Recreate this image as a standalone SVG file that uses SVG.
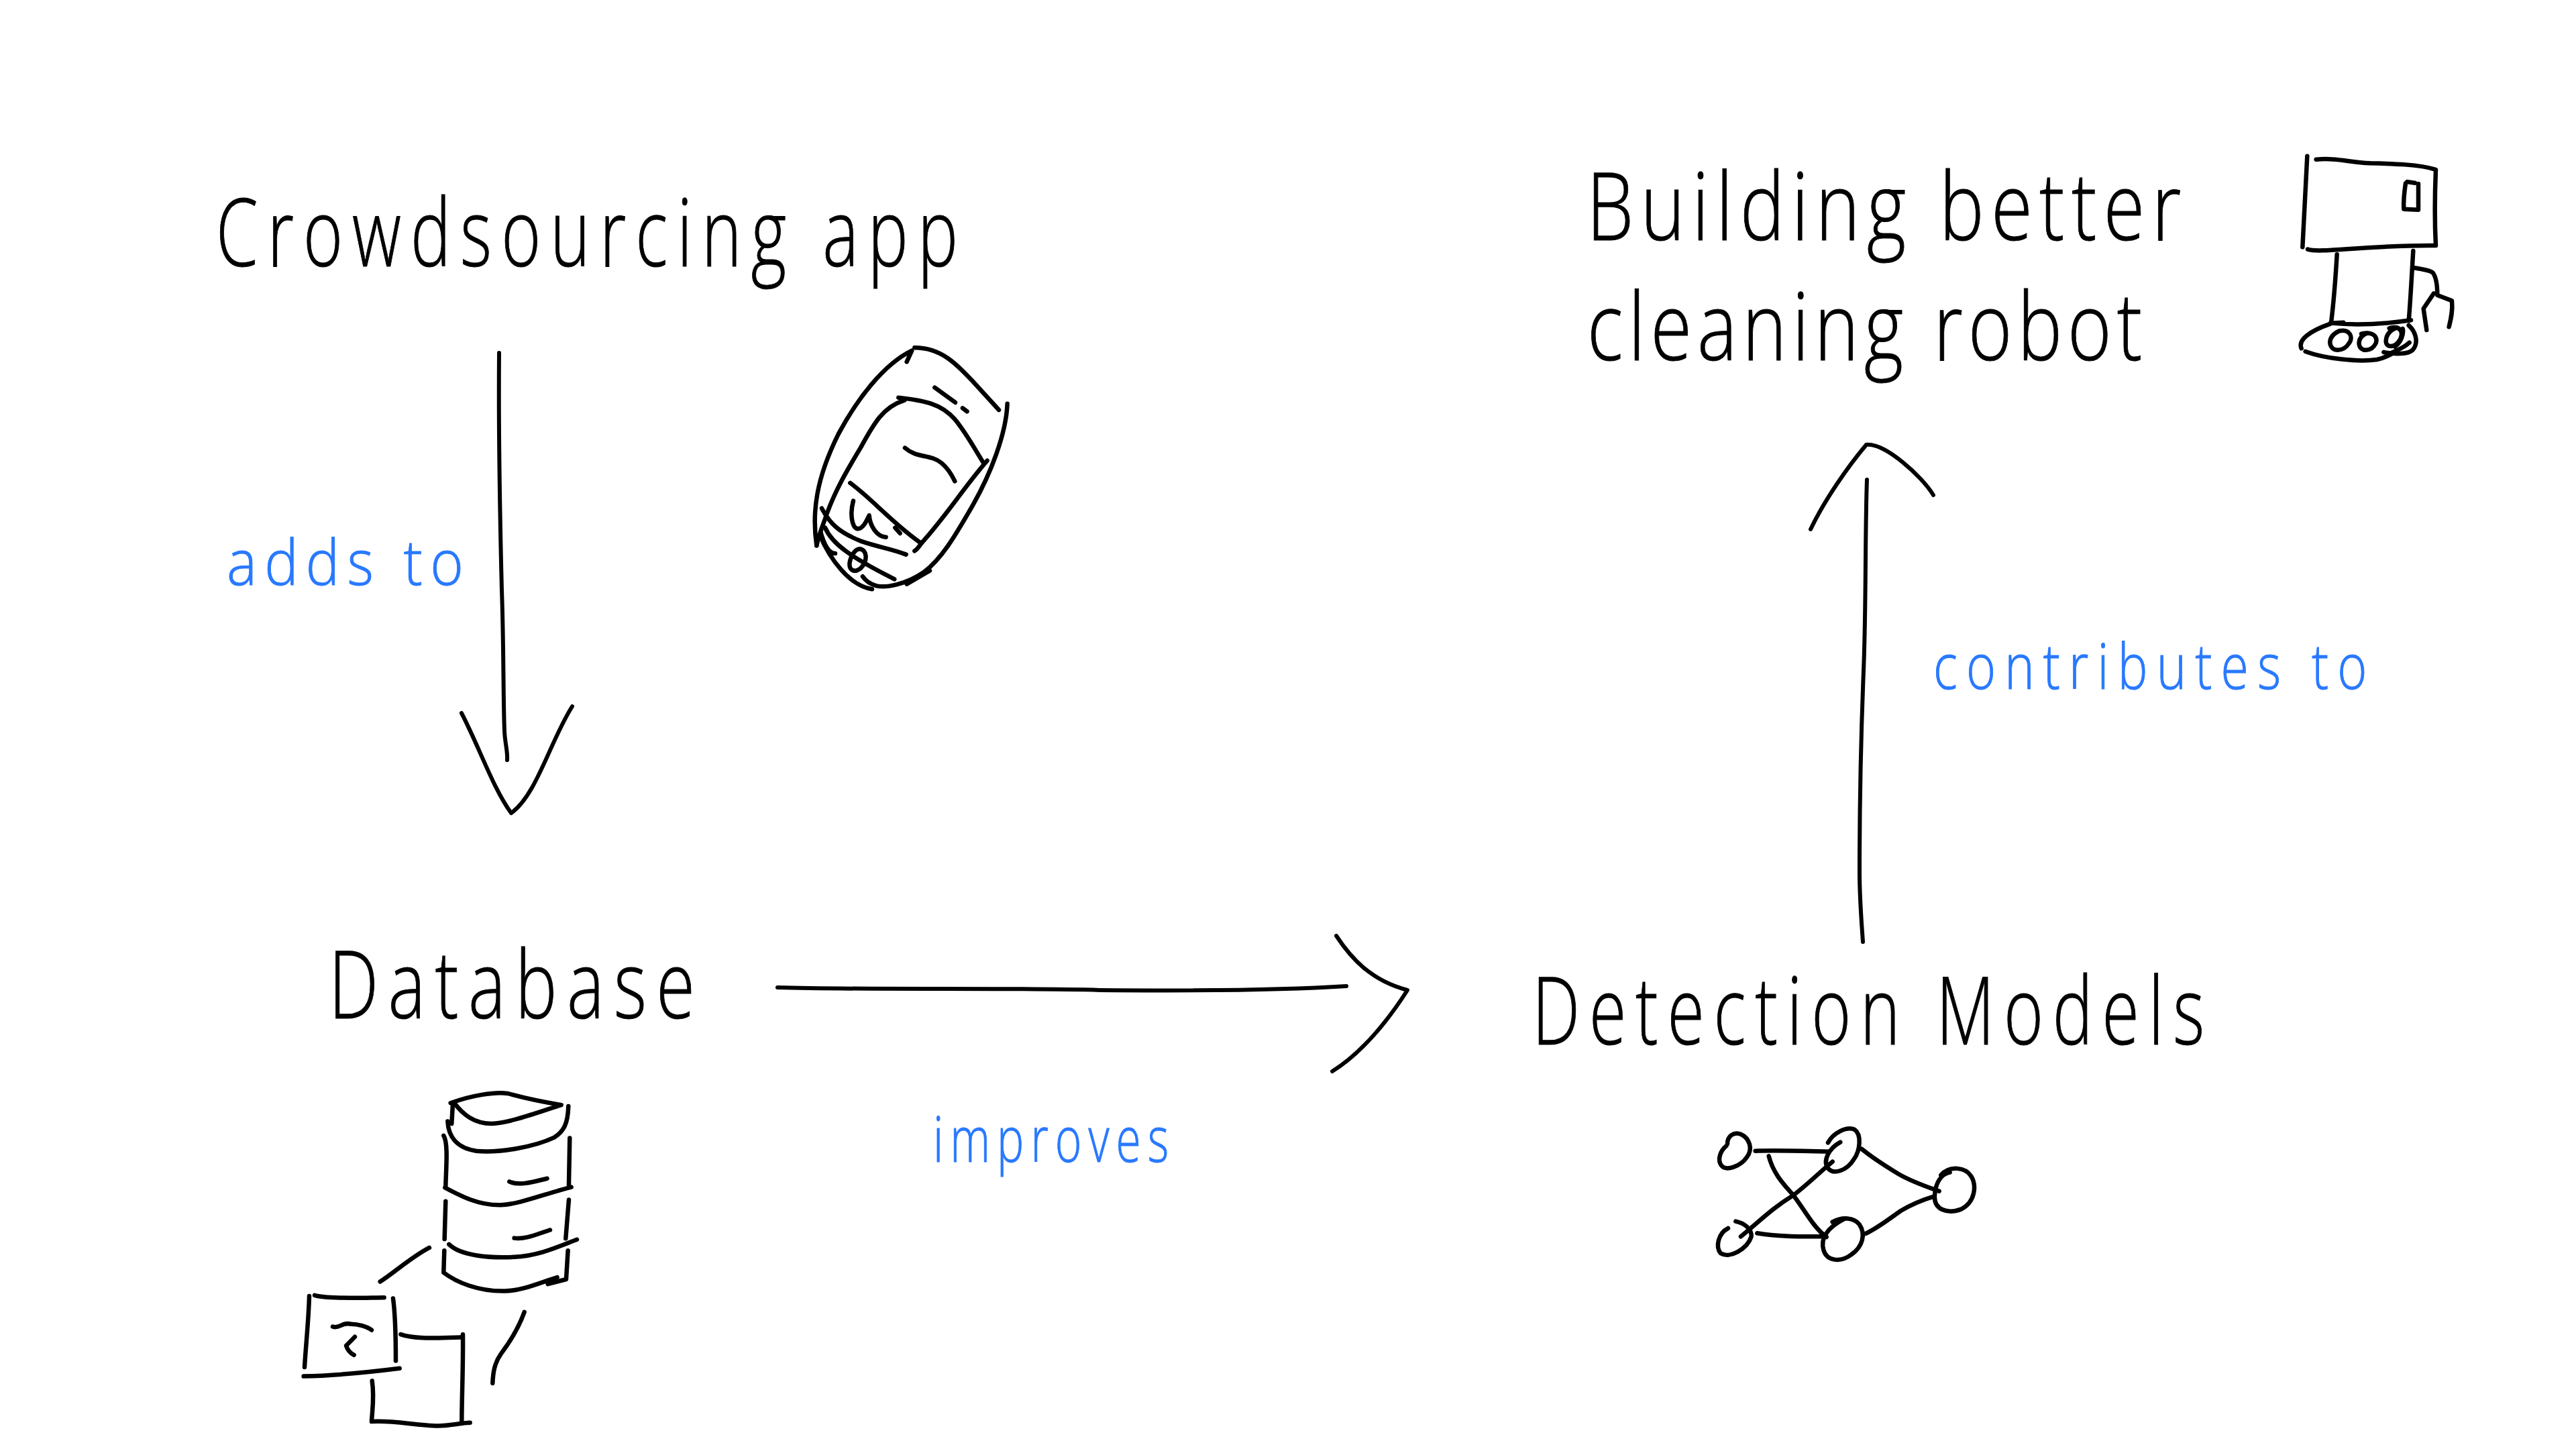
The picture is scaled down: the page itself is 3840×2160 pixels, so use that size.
<svg xmlns="http://www.w3.org/2000/svg" width="3840" height="2160" viewBox="0 0 3840 2160">
<style>
.s{fill:none;stroke:#000;stroke-width:6.5;stroke-linecap:round;stroke-linejoin:round;vector-effect:non-scaling-stroke}
.a{fill:none;stroke:#000;stroke-width:6;stroke-linecap:round;stroke-linejoin:round}
.t{font-family:"Open Sans","Liberation Sans",sans-serif;font-weight:300;font-size:140px;fill:#000;stroke:#000;stroke-width:1}
.l{font-family:"Open Sans","Liberation Sans",sans-serif;font-weight:300;font-size:94px;fill:#2979ff;stroke:#2979ff;stroke-width:1}
</style>
<rect width="3840" height="2160" fill="#fff"/>
<g id="connectors">
<g id="edge-adds-to">
<path class="a" d="M744 526C743 640 745 760 748 880C751 960 750 1040 752 1090C753 1110 757 1120 756 1133"/>
<path class="a" d="M688 1063C715 1115 735 1175 762 1212C800 1185 820 1105 853 1053"/>
<text class="l" transform="translate(338 872) scale(.9 1)" textLength="392" lengthAdjust="spacing">adds to</text>
</g>
<g id="edge-improves">
<path class="a" d="M1159 1472C1300 1476 1500 1472 1640 1476C1760 1477 1900 1477 2007 1470"/>
<path class="a" d="M1992 1395C2015 1430 2045 1462 2098 1476C2070 1520 2030 1570 1986 1597"/>
<text class="l" transform="translate(1391 1732) scale(.72 1)" textLength="488" lengthAdjust="spacing">improves</text>
</g>
<g id="edge-contributes-to">
<path class="a" d="M2783 715C2780 800 2782 900 2778 1000C2774 1100 2772 1200 2772 1300C2772 1340 2775 1375 2777 1404"/>
<path class="a" d="M2699 789C2720 745 2755 695 2782 663C2810 660 2865 710 2882 738"/>
<text class="l" transform="translate(2882 1027) scale(.8 1)" textLength="808" lengthAdjust="spacing">contributes to</text>
</g>
</g>
<g id="node-crowdsourcing">
<text class="t" transform="translate(322 397) scale(.72 1)" textLength="1536" lengthAdjust="spacing">Crowdsourcing app</text>
<g transform="translate(1150 480) scale(.3333)">
<path class="s" d="M202 1000C180 850 200 700 300 500C380 350 500 190 628 128L605 178"/>
<path class="s" d="M640 115C760 115 830 190 900 265L1017 393"/>
<path class="s" d="M1055 365C1050 500 980 680 900 820C820 960 760 1060 680 1120C600 1175 510 1190 470 1180C440 1172 420 1155 408 1138"/>
<path class="s" d="M708 1112L605 1172"/>
<path class="s" d="M595 350C500 380 460 450 400 560C340 660 280 760 240 880C225 920 210 960 202 1000"/>
<path class="s" d="M568 338C680 350 760 365 820 435C870 495 910 570 948 630"/>
<path class="s" d="M965 620C860 740 780 870 670 990C660 1005 650 1018 640 1024"/>
<path class="s" d="M352 720C450 790 540 900 670 990"/>
<path class="s" d="M597 563C650 610 710 590 760 630C790 655 805 680 820 712"/>
<path class="s" d="M730 293L822 360M855 385L875 400M553 920L575 945"/>
<path class="s" d="M366 800C350 860 360 920 385 925C410 925 425 890 437 865C440 910 470 960 512 962"/>
<path class="s" d="M225 833C260 900 300 940 400 980C470 1005 540 1015 602 1040"/>
<path class="s" d="M240 920C270 990 350 1050 550 1150"/>
<path class="s" d="M220 940C240 1010 260 1035 285 1035M215 950C260 1060 350 1180 450 1195"/>
<path class="s" d="M395 1015C430 1020 430 1070 400 1100C370 1125 345 1110 350 1075C355 1045 375 1015 395 1015Z"/>
</g>
</g>
<g id="node-database">
<text class="t" transform="translate(490 1518) scale(.75 1)" textLength="728" lengthAdjust="spacing">Database</text>
<g transform="translate(420 1590) scale(.3333 .357)">
<path class="s" d="M755 152C850 120 950 105 1010 112C1080 130 1150 145 1250 160C1150 190 1020 235 940 238C860 238 810 200 770 150"/>
<path class="s" d="M765 155L760 238"/>
<path class="s" d="M742 228C745 290 780 340 870 352C970 362 1130 335 1220 295C1260 270 1280 240 1282 165"/>
<path class="s" d="M724 288C745 320 735 420 733 500M1288 298L1284 495"/>
<path class="s" d="M730 505C800 540 880 580 980 578C1060 575 1180 530 1295 503"/>
<path class="s" d="M1018 480C1060 500 1130 480 1187 467"/>
<path class="s" d="M733 562L728 720M1284 556L1270 718"/>
<path class="s" d="M1040 716C1090 722 1140 700 1200 682"/>
<path class="s" d="M748 742C800 790 930 800 1040 795C1150 790 1240 750 1320 722"/>
<path class="s" d="M727 768L724 860C780 900 880 940 1000 937C1080 935 1160 900 1232 880"/>
<path class="s" d="M1280 768L1272 888L1190 908"/>
<path class="s" d="M660 756C580 795 510 855 440 898"/>
<path class="s" d="M1085 1025C1060 1090 1020 1150 980 1200C950 1240 945 1280 943 1322"/>
<path class="s" d="M123 958C120 1060 108 1160 102 1255M147 955C200 970 350 965 458 964M498 968C510 1050 510 1150 510 1228M98 1293C250 1290 400 1275 527 1260"/>
<path class="s" d="M228 1086C260 1095 270 1065 310 1075C340 1075 380 1085 402 1100M327 1128L288 1165C295 1185 305 1195 323 1204"/>
<path class="s" d="M532 1118C600 1140 700 1132 800 1130M810 1118C812 1250 805 1380 805 1490"/>
<path class="s" d="M404 1312C415 1380 405 1430 402 1482C500 1475 600 1500 700 1500C750 1500 800 1488 842 1487"/>
</g>
</g>
<g id="node-detection">
<text class="t" transform="translate(2284 1557) scale(.72 1)" textLength="1392" lengthAdjust="spacing">Detection Models</text>
<g transform="translate(2530 1660) scale(.3333)">
<path class="s" d="M135 135C135 100 165 80 195 92C235 110 250 160 222 195C195 235 130 260 108 232C88 205 105 165 130 145"/>
<path class="s" d="M260 167C350 163 480 167 590 170"/>
<path class="s" d="M585 130C610 85 670 55 705 72C735 95 730 165 700 205C670 255 610 275 585 245C560 210 590 155 640 128"/>
<path class="s" d="M320 190C340 270 390 320 430 365C480 430 520 510 578 552"/>
<path class="s" d="M195 550C280 480 340 420 430 365C490 320 550 260 605 215"/>
<path class="s" d="M138 513C95 535 80 595 105 625C145 650 225 605 242 550C245 515 210 490 172 482"/>
<path class="s" d="M268 535C350 550 460 550 575 550"/>
<path class="s" d="M605 485C650 460 700 465 725 495C755 540 740 595 690 630C640 668 580 660 565 610C550 560 580 510 660 470"/>
<path class="s" d="M1130 263C1090 270 1065 310 1062 370C1060 430 1120 450 1180 428C1245 395 1250 320 1225 280C1200 240 1130 230 1090 275"/>
<path class="s" d="M735 158C800 210 850 240 900 270C960 305 1020 325 1082 347"/>
<path class="s" d="M753 537C810 510 860 470 910 435C960 405 1010 385 1060 370"/>
</g>
</g>
<g id="node-robot">
<text class="t" transform="translate(2365 358) scale(.8 1)" textLength="1108" lengthAdjust="spacing">Building better</text>
<text class="t" transform="translate(2366 537) scale(.8 1)" textLength="1034" lengthAdjust="spacing">cleaning robot</text>
<g transform="translate(3400 200) scale(.3333)">
<path class="s" d="M118 98L97 505"/>
<path class="s" d="M158 113C250 105 300 125 400 130C500 132 620 135 690 158"/>
<path class="s" d="M693 160C688 280 688 400 693 498C500 495 300 515 200 520C170 520 140 522 120 515"/>
<path class="s" d="M558 220C552 260 548 300 550 335L615 338L615 222M565 213L600 218"/>
<path class="s" d="M251 538C245 640 240 720 226 835M592 522C585 640 580 740 572 835"/>
<path class="s" d="M222 845C330 855 460 850 582 832M222 845L280 842"/>
<path class="s" d="M92 958C75 920 130 880 222 848"/>
<path class="s" d="M110 972C200 1005 350 1020 430 1008C470 1000 490 985 510 975"/>
<path class="s" d="M460 975C510 985 570 985 590 965C620 930 600 880 572 855"/>
<path class="s" d="M262 880C310 870 325 910 305 935C280 975 225 975 220 935C218 905 240 890 262 880Z"/>
<path class="s" d="M360 893C410 880 435 905 425 935C405 975 355 975 350 940C348 915 360 900 385 890"/>
<path class="s" d="M485 868C530 855 550 880 535 915C515 955 470 960 470 925C472 895 490 875 520 865"/>
<path class="s" d="M545 870C550 890 540 930 510 950M575 932C545 960 510 970 480 985"/>
<path class="s" d="M597 598C640 605 670 610 680 620C695 640 700 680 700 720L765 745C770 790 760 830 752 862"/>
<path class="s" d="M684 712L638 780L652 876"/>
</g>
</g>
</svg>
